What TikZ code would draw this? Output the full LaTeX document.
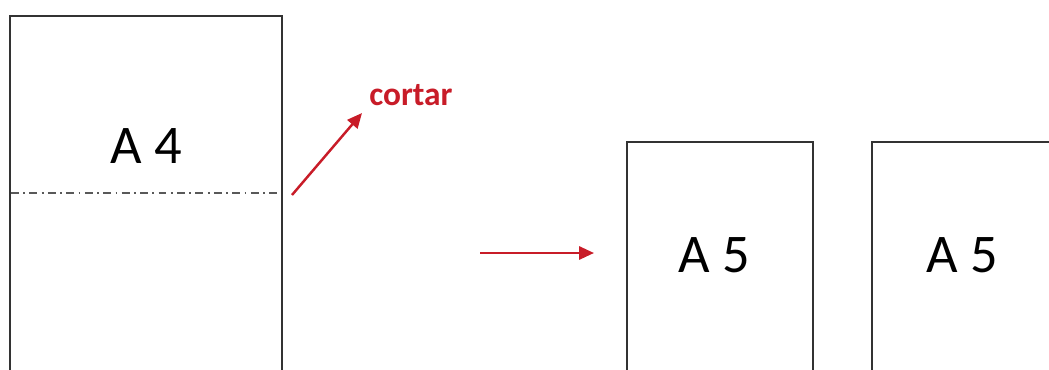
\documentclass[tikz,border=0pt]{standalone}
\usepackage{fontspec}
\setmainfont{Carlito}
\usetikzlibrary{arrows.meta}
\definecolor{cutred}{RGB}{200,28,40}
\tikzset{
  page/.style={draw=black!80,line width=0.6pt},
  cutline/.style={draw=black!65,line width=0.7pt,dash pattern=on 4.5pt off 2.5pt on 1pt off 2.5pt},
  sheetlabel/.style={inner sep=0pt,font=\fontsize{31}{31}\selectfont},
  cutlabel/.style={inner sep=0pt,text=cutred,font=\bfseries\fontsize{19}{19}\selectfont},
  redarrow/.style={cutred,line width=1.4pt,-{Triangle[length=8.5pt,width=7.5pt]}}
}
\begin{document}
\begin{tikzpicture}[x=0.02cm,y=-0.02cm]
\useasboundingbox (0,0) rectangle (1049,369);
\clip (0,0) rectangle (1049,369);
% A4 sheet
\draw[page] (10,16) rectangle (282,400);
\node[sheetlabel] (a4) at (146,146) {A 4};
\draw[cutline] (11,193) coordinate (cutL) -- (281,193) coordinate (cutR);
% cut label
\node[cutlabel,anchor=base west] (cortar) at (369,105) {cortar};
\coordinate (cutstart) at (292,195);
\coordinate (cuttip) at (362,113);
\draw[redarrow] (cutstart) -- (cuttip);
% result
\coordinate (gofrom) at (480,253);
\coordinate (goto) at (594,253);
\draw[redarrow] (gofrom) -- (goto);
\draw[page] (627,142) rectangle (813,400);
\node[sheetlabel] (a5a) at (714,255) {A 5};
\draw[page] (872,142) rectangle (1070,400);
\node[sheetlabel] (a5b) at (962,255) {A 5};
\end{tikzpicture}
\end{document}
